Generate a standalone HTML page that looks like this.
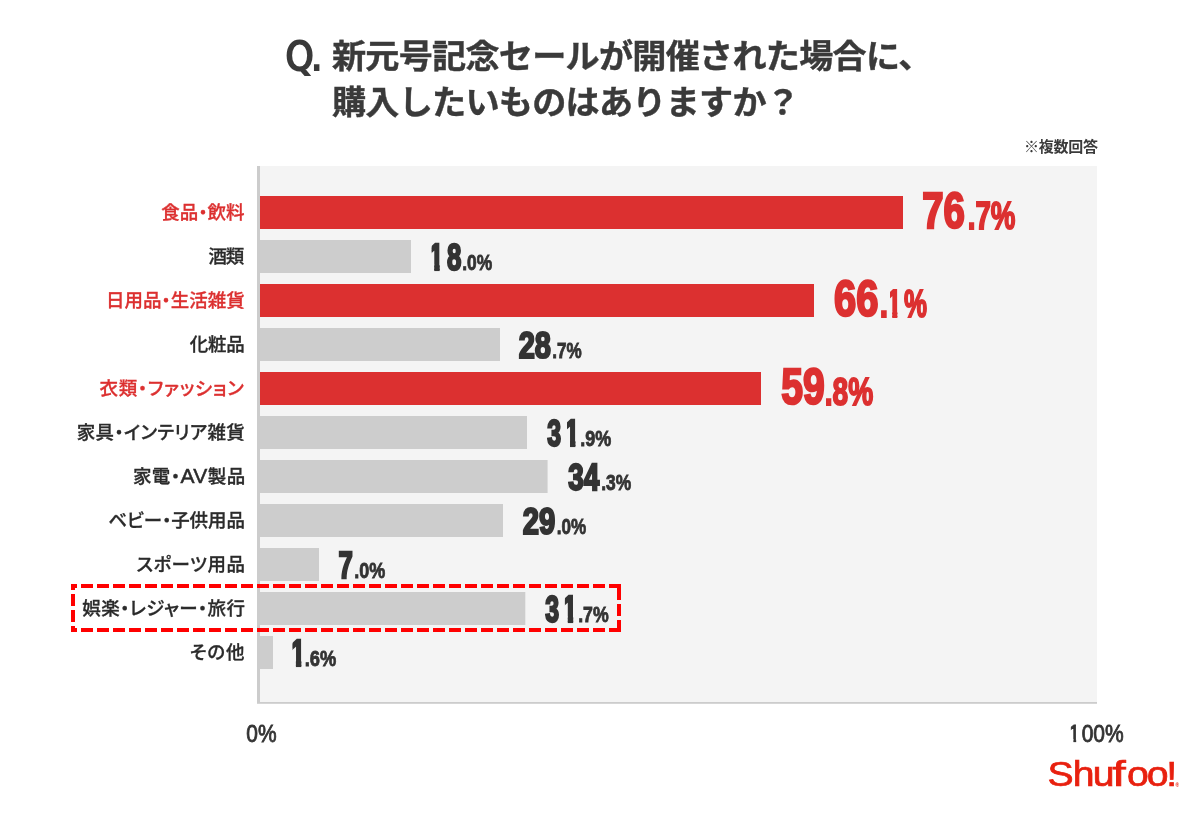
<!DOCTYPE html>
<html lang="ja"><head><meta charset="utf-8"><title>Shufoo! 新元号記念セール</title>
<style>
html,body{margin:0;padding:0;background:#fff}
svg{display:block}
text{font-family:"Liberation Sans","Noto Sans CJK JP",sans-serif}
.lab{font-size:18.5px;font-weight:500;font-feature-settings:"palt";stroke-width:.3px}
.q{font-family:"DejaVu Sans","Liberation Sans",sans-serif;font-weight:400}
.av{font-size:21px;font-weight:400;stroke-width:.5px}
.num text{font-weight:700;vector-effect:non-scaling-stroke;stroke-linejoin:miter}
</style></head><body>
<svg width="1200" height="813" viewBox="0 0 1200 813">
<rect width="1200" height="813" fill="#fff"/>
<rect x="257" y="166" width="840" height="537" fill="#f4f4f4"/>
<rect x="257" y="166" width="3" height="537" fill="#cccccc"/>
<rect x="257" y="702" width="840" height="1.8" fill="#cccccc"/>

<g fill="#3a3a3a" font-weight="700">
<text transform="translate(285.5,70.4) scale(0.92,1)" class="q" stroke="#3a3a3a" stroke-width="1.9" font-size="39" letter-spacing="-3">Q.</text>
<text transform="translate(332,67.7) scale(1.035,1)" font-size="33" letter-spacing="-0.75" stroke="#3a3a3a" stroke-width=".4">新元号記念セールが開催された場合に、</text>
<text transform="translate(332,113.7) scale(1.035,1)" font-size="33" letter-spacing="-0.75" stroke="#3a3a3a" stroke-width=".4">購入したいものはありますか？</text>
<text x="1097.6" y="152.2" font-size="15" letter-spacing="-0.3" text-anchor="end">※複数回答</text>
</g>
<defs><clipPath id="c1_0"><path d="M3.89,-37.40H15.27V2.00H7.51V-5.22H3.89Z"/></clipPath><clipPath id="c2_2"><path d="M4.81,-38.40H15.40V1.60H7.99V-5.12H4.81Z"/></clipPath><clipPath id="c5_1"><path d="M3.24,-37.40H15.27V2.00H7.51V-5.22H3.24Z"/></clipPath><clipPath id="c9_1"><path d="M3.23,-37.40H15.27V2.00H7.51V-5.22H3.23Z"/></clipPath><clipPath id="c10_0"><path d="M2.63,-37.40H15.27V2.00H7.51V-5.22H2.63Z"/></clipPath><clipPath id="c12_0"><path d="M2.50,-23.30H8.50V0.80H5.48V-2.54H2.50Z"/></clipPath></defs>
<rect x="260" y="196" width="643" height="33" fill="#dc3030"/>
<text class="lab" x="244.60" y="219" letter-spacing="0.00" text-anchor="end" fill="#dc3030" stroke="#dc3030">食品・飲料</text>
<g class="num"><text transform="translate(922.23,228.20) scale(0.7582,1)" fill="#dc3030" stroke="#dc3030" stroke-width="2.2" font-size="50.6">76</text><text transform="translate(967.79,228.50) scale(0.7208,1)" fill="#dc3030" stroke="#dc3030" stroke-width="1.6" font-size="38.4">.7%</text></g>
<rect x="260" y="240" width="151" height="33" fill="#cdcdcd"/>
<text class="lab" x="243.30" y="263" letter-spacing="-1.05" text-anchor="end" fill="#2b2b2b" stroke="#2b2b2b">酒類</text>
<g class="num"><text transform="translate(428.98,269.60) scale(0.7000,1)" clip-path="url(#c1_0)" fill="#333" stroke="#333" stroke-width="2.0" font-size="37.4">1</text><text transform="translate(447.02,269.60) scale(0.6915,1)" fill="#333" stroke="#333" stroke-width="2.0" font-size="37.4">8</text><text transform="translate(462.20,270.23) scale(0.7806,1)" fill="#333" stroke="#333" stroke-width="0.75" font-size="22.3">.0%</text></g>
<rect x="260" y="284" width="554" height="33" fill="#dc3030"/>
<text class="lab" x="244.75" y="307" letter-spacing="0.00" text-anchor="end" fill="#dc3030" stroke="#dc3030">日用品・生活雑貨</text>
<g class="num"><text transform="translate(833.95,316.20) scale(0.7896,1)" fill="#dc3030" stroke="#dc3030" stroke-width="2.2" font-size="50.6">66</text><text transform="translate(879.66,316.50) scale(0.7786,1)" fill="#dc3030" stroke="#dc3030" stroke-width="1.6" font-size="38.4">.</text><text transform="translate(886.63,316.50) scale(0.7000,1)" clip-path="url(#c2_2)" fill="#dc3030" stroke="#dc3030" stroke-width="1.6" font-size="38.4">1</text><text transform="translate(904.02,316.50) scale(0.6741,1)" fill="#dc3030" stroke="#dc3030" stroke-width="1.6" font-size="38.4">%</text></g>
<rect x="260" y="328" width="240" height="33" fill="#cdcdcd"/>
<text class="lab" x="244.50" y="351" letter-spacing="-0.25" text-anchor="end" fill="#2b2b2b" stroke="#2b2b2b">化粧品</text>
<g class="num"><text transform="translate(518.73,357.60) scale(0.7762,1)" fill="#333" stroke="#333" stroke-width="2.0" font-size="37.4">28</text><text transform="translate(552.21,358.23) scale(0.7671,1)" fill="#333" stroke="#333" stroke-width="0.75" font-size="22.3">.7%</text></g>
<rect x="260" y="372" width="501" height="33" fill="#dc3030"/>
<text class="lab" x="244.47" y="395" letter-spacing="0.72" text-anchor="end" fill="#dc3030" stroke="#dc3030">衣類・ファッション</text>
<g class="num"><text transform="translate(781.23,404.20) scale(0.7715,1)" fill="#dc3030" stroke="#dc3030" stroke-width="2.2" font-size="50.6">59</text><text transform="translate(824.76,404.50) scale(0.7324,1)" fill="#dc3030" stroke="#dc3030" stroke-width="1.6" font-size="38.4">.8%</text></g>
<rect x="260" y="416" width="267" height="33" fill="#cdcdcd"/>
<text class="lab" x="245.13" y="439" letter-spacing="0.33" text-anchor="end" fill="#2b2b2b" stroke="#2b2b2b">家具・インテリア雑貨</text>
<g class="num"><text transform="translate(547.25,445.60) scale(0.6674,1)" fill="#333" stroke="#333" stroke-width="2.0" font-size="37.4">3</text><text transform="translate(564.73,445.60) scale(0.7000,1)" clip-path="url(#c5_1)" fill="#333" stroke="#333" stroke-width="2.0" font-size="37.4">1</text><text transform="translate(580.16,446.23) scale(0.8075,1)" fill="#333" stroke="#333" stroke-width="0.75" font-size="22.3">.9%</text></g>
<rect x="260" y="460" width="287.6" height="33" fill="#cdcdcd"/>
<text class="lab" x="245.68" y="483" letter-spacing="0.43" text-anchor="end" fill="#2b2b2b" stroke="#2b2b2b">家電・<tspan class="av">AV</tspan>製品</text>
<g class="num"><text transform="translate(568.25,489.60) scale(0.7458,1)" fill="#333" stroke="#333" stroke-width="2.0" font-size="37.4">34</text><text transform="translate(601.20,490.23) scale(0.7806,1)" fill="#333" stroke="#333" stroke-width="0.75" font-size="22.3">.3%</text></g>
<rect x="260" y="504" width="243" height="33" fill="#cdcdcd"/>
<text class="lab" x="244.80" y="527" letter-spacing="-0.10" text-anchor="end" fill="#2b2b2b" stroke="#2b2b2b">ベビー・子供用品</text>
<g class="num"><text transform="translate(522.73,533.60) scale(0.7825,1)" fill="#333" stroke="#333" stroke-width="2.0" font-size="37.4">29</text><text transform="translate(556.71,534.23) scale(0.7671,1)" fill="#333" stroke="#333" stroke-width="0.75" font-size="22.3">.0%</text></g>
<rect x="260" y="548" width="59" height="33" fill="#cdcdcd"/>
<text class="lab" x="245.33" y="571" letter-spacing="0.43" text-anchor="end" fill="#2b2b2b" stroke="#2b2b2b">スポーツ用品</text>
<g class="num"><text transform="translate(338.55,577.60) scale(0.6884,1)" fill="#333" stroke="#333" stroke-width="2.0" font-size="37.4">7</text><text transform="translate(354.16,578.23) scale(0.8075,1)" fill="#333" stroke="#333" stroke-width="0.75" font-size="22.3">.0%</text></g>
<rect x="260" y="592" width="265.3" height="33" fill="#cdcdcd"/>
<text class="lab" x="245.26" y="615" letter-spacing="0.36" text-anchor="end" fill="#2b2b2b" stroke="#2b2b2b">娯楽・レジャー・旅行</text>
<g class="num"><text transform="translate(545.25,621.60) scale(0.6674,1)" fill="#333" stroke="#333" stroke-width="2.0" font-size="37.4">3</text><text transform="translate(562.54,621.60) scale(0.7000,1)" clip-path="url(#c9_1)" fill="#333" stroke="#333" stroke-width="2.0" font-size="37.4">1</text><text transform="translate(578.18,622.23) scale(0.7940,1)" fill="#333" stroke="#333" stroke-width="0.75" font-size="22.3">.7%</text></g>
<rect x="260" y="636" width="13" height="33" fill="#cdcdcd"/>
<text class="lab" x="245.10" y="659" letter-spacing="0.71" text-anchor="end" fill="#2b2b2b" stroke="#2b2b2b">その他</text>
<g class="num"><text transform="translate(290.66,665.60) scale(0.7000,1)" clip-path="url(#c10_0)" fill="#333" stroke="#333" stroke-width="2.0" font-size="37.4">1</text><text transform="translate(304.64,666.23) scale(0.8210,1)" fill="#333" stroke="#333" stroke-width="0.75" font-size="22.3">.6%</text></g>
<g class="num"><text transform="translate(246.34,741.60) scale(0.8984,1)" fill="#333" stroke="#333" stroke-width="0.8" font-size="23.3" style="font-weight:400">0%</text></g>
<g class="num"><text transform="translate(1068.55,741.60) scale(0.9000,1)" clip-path="url(#c12_0)" fill="#333" stroke="#333" stroke-width="0.8" font-size="23.3" style="font-weight:400">1</text><text transform="translate(1081.64,741.60) scale(0.9013,1)" fill="#333" stroke="#333" stroke-width="0.8" font-size="23.3" style="font-weight:400">00%</text></g>
<g stroke="#ff0000" stroke-width="4" fill="none" stroke-dasharray="12 4"><path d="M71,586H621" stroke-dashoffset="6"/><path d="M71,630H621" stroke-dashoffset="6"/><path d="M73,584V632" stroke-dashoffset="6"/><path d="M619,584V632" stroke-dasharray="16 4 12 4 12 4"/></g>
<text transform="translate(1047.5,785.6) scale(1.12,1)" font-size="35" fill="#e8200f" stroke="#e8200f" stroke-width=".7"><tspan x="0.00">S</tspan><tspan x="22.50">h</tspan><tspan x="40.36">u</tspan><tspan x="57.86" textLength="12" lengthAdjust="spacingAndGlyphs">f</tspan><tspan x="71.07">o</tspan><tspan x="88.71">o</tspan><tspan x="106.12">!</tspan></text>
<text x="1175.5" y="786.6" font-size="4.8" font-weight="700" fill="#e8200f">®</text>
</svg></body></html>
